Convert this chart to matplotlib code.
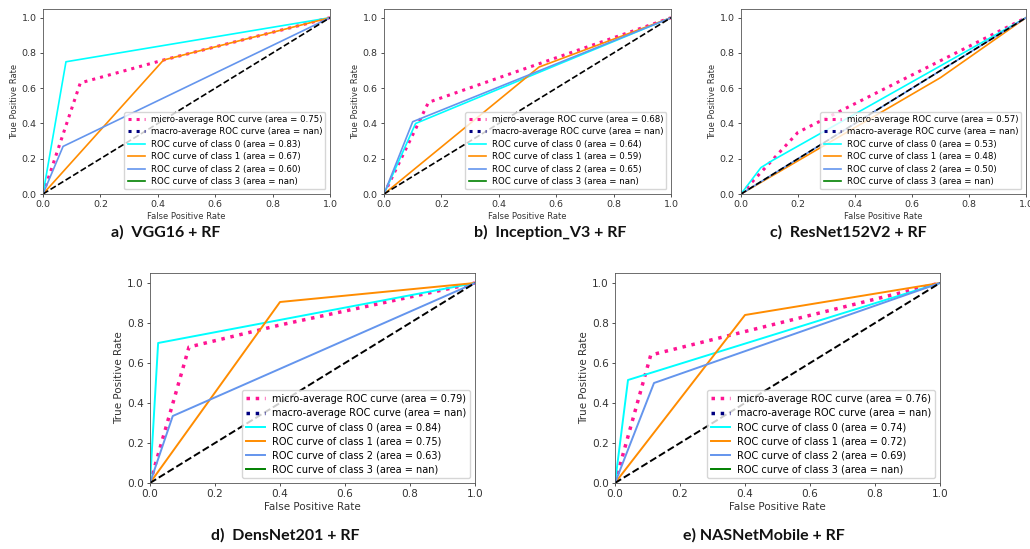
import matplotlib.pyplot as plt
import numpy as np

nan = float('nan')

# ROC curves, one set per model
vgg_micro = ([0.0, 0.13, 0.42, 1.0], [0.0, 0.63, 0.76, 1.0])
vgg_c0 = ([0.0, 0.08, 1.0], [0.0, 0.75, 1.0])
vgg_c1 = ([0.0, 0.42, 1.0], [0.0, 0.76, 1.0])
vgg_c2 = ([0.0, 0.07, 1.0], [0.0, 0.27, 1.0])
vgg_areas = ['0.75', 'nan', '0.83', '0.67', '0.60', 'nan']

inc_micro = ([0.0, 0.155, 1.0], [0.0, 0.52, 1.0])
inc_c0 = ([0.0, 0.11, 1.0], [0.0, 0.40, 1.0])
inc_c1 = ([0.0, 0.54, 1.0], [0.0, 0.72, 1.0])
inc_c2 = ([0.0, 0.10, 1.0], [0.0, 0.41, 1.0])
inc_areas = ['0.68', 'nan', '0.64', '0.59', '0.65', 'nan']

res_micro = ([0.0, 0.20, 1.0], [0.0, 0.35, 1.0])
res_c0 = ([0.0, 0.07, 0.11, 1.0], [0.0, 0.15, 0.19, 1.0])
res_c1 = ([0.0, 0.70, 1.0], [0.0, 0.66, 1.0])
res_c2 = ([0.0, 0.5, 1.0], [0.0, 0.5, 1.0])
res_areas = ['0.57', 'nan', '0.53', '0.48', '0.50', 'nan']

dns_micro = ([0.0, 0.12, 0.40, 1.0], [0.0, 0.68, 0.79, 1.0])
dns_c0 = ([0.0, 0.025, 1.0], [0.0, 0.70, 1.0])
dns_c1 = ([0.0, 0.40, 1.0], [0.0, 0.905, 1.0])
dns_c2 = ([0.0, 0.07, 1.0], [0.0, 0.335, 1.0])
dns_areas = ['0.79', 'nan', '0.84', '0.75', '0.63', 'nan']

nas_micro = ([0.0, 0.11, 1.0], [0.0, 0.64, 1.0])
nas_c0 = ([0.0, 0.04, 1.0], [0.0, 0.515, 1.0])
nas_c1 = ([0.0, 0.40, 1.0], [0.0, 0.84, 1.0])
nas_c2 = ([0.0, 0.12, 1.0], [0.0, 0.50, 1.0])
nas_areas = ['0.76', 'nan', '0.74', '0.72', '0.69', 'nan']

# macro average and class 3 are nan everywhere -> only legend entries
nan_curve = ([nan], [nan])

captions = ['a)  VGG16 + RF', 'b)  Inception_V3 + RF', 'c)  ResNet152V2 + RF',
            'd)  DensNet201 + RF', 'e) NASNetMobile + RF']

W, H = 1030, 549
fig = plt.figure(figsize=(W / 100, H / 100), dpi=100)


def px_axes(left, right, y0, y1):
    # y0 = pixel row of y=0, y1 = pixel row of y=1 ; axes go up to 1.05
    top = y0 - (y0 - y1) * 1.05
    return fig.add_axes([left / W, 1 - y0 / H, (right - left) / W, (y0 - top) / H])


def roc_panel(ax, micro, c0, c1, c2, areas, big):
    lw_dot = 2.5 if big else 2.2
    lw = 1.4 if big else 1.2
    fs_tick = 7.6 if big else 6.8
    fs_lab = 7.5 if big else 6.0
    fs_leg = 7.0 if big else 6.2
    ls_leg = 0.42 if big else 0.4

    ax.plot(micro[0], micro[1], color='deeppink', linestyle=':', linewidth=lw_dot,
            label=f'micro-average ROC curve (area = {areas[0]})')
    ax.plot(nan_curve[0], nan_curve[1], color='navy', linestyle=':', linewidth=lw_dot,
            label=f'macro-average ROC curve (area = {areas[1]})')
    colors = ['aqua', 'darkorange', 'cornflowerblue', 'green']
    curves = [c0, c1, c2, nan_curve]
    for i, (c, col) in enumerate(zip(curves, colors)):
        ax.plot(c[0], c[1], color=col, linewidth=lw,
                label=f'ROC curve of class {i} (area = {areas[i + 2]})')
    ax.plot([0, 1], [0, 1], 'k--', linewidth=lw)

    ax.set_xlim(0.0, 1.0)
    ax.set_ylim(0.0, 1.05)
    ax.set_xticks(np.arange(0, 1.01, 0.2))
    ax.set_yticks(np.arange(0, 1.01, 0.2))
    ax.tick_params(labelsize=fs_tick, length=2.5, width=0.6, pad=2, colors='#333333')
    for s in ax.spines.values():
        s.set_linewidth(0.6)
        s.set_color('#555555')
    ax.set_xlabel('False Positive Rate', fontsize=fs_lab, labelpad=2, color='#333333')
    ax.set_ylabel('True Positive Rate', fontsize=fs_lab, labelpad=2, color='#333333')
    ax.legend(loc='lower right', fontsize=fs_leg, handlelength=2.0, borderpad=0.35,
              labelspacing=ls_leg, handletextpad=0.7, framealpha=0.8,
              borderaxespad=0.55)


ax_a = px_axes(43, 330, 194, 17.7)
ax_b = px_axes(384, 671, 194, 17.7)
ax_c = px_axes(741, 1026, 194, 17.7)
ax_d = px_axes(150, 475, 483, 283)
ax_e = px_axes(615, 940, 483, 283)

roc_panel(ax_a, vgg_micro, vgg_c0, vgg_c1, vgg_c2, vgg_areas, False)
roc_panel(ax_b, inc_micro, inc_c0, inc_c1, inc_c2, inc_areas, False)
roc_panel(ax_c, res_micro, res_c0, res_c1, res_c2, res_areas, False)
roc_panel(ax_d, dns_micro, dns_c0, dns_c1, dns_c2, dns_areas, True)
roc_panel(ax_e, nas_micro, nas_c0, nas_c1, nas_c2, nas_areas, True)

# bold captions under each panel
cap_pos = [(166, 232), (550, 232), (848, 232), (285, 535), (764, 535)]
for text, (cx, cy) in zip(captions, cap_pos):
    fig.text(cx / W, 1 - cy / H, text, ha='center', va='center',
             fontsize=11.5, fontweight='bold', family='Lato', color='#111111')

fig.savefig('out.png', dpi=100)
